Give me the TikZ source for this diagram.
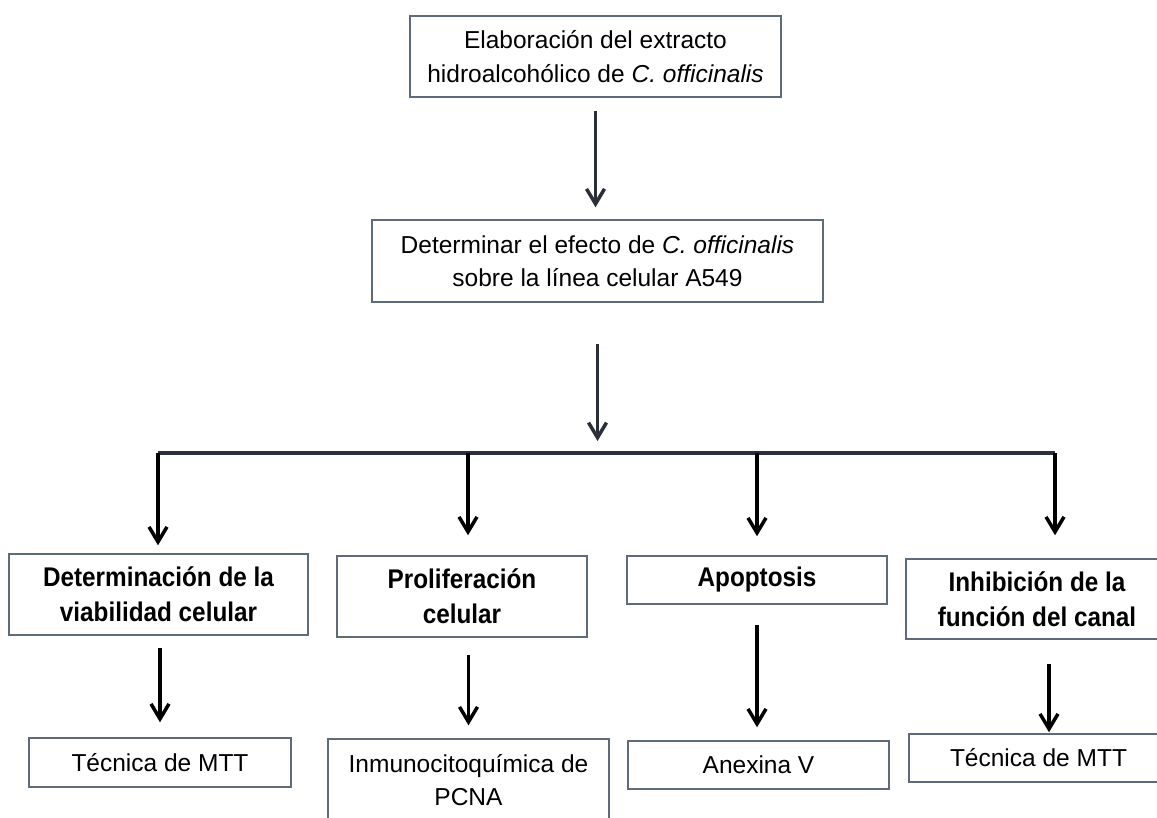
\documentclass[tikz,border=0pt]{standalone}
\usepackage{fontspec}
\setmainfont{Liberation Sans}
\newfontfamily\bnarrow[FakeStretch=0.9]{Liberation Sans}
\usetikzlibrary{arrows.meta}
\definecolor{boxline}{HTML}{5F6B78}
\definecolor{darkarrow}{HTML}{2B3038}
\begin{document}
\begin{tikzpicture}[x=1pt,y=-1pt,
  box/.style={draw=boxline, line width=1.5pt, inner sep=0pt, align=center, font=\fontsize{24.5}{33.5}\selectfont},
  boldbox/.style={box, font=\bnarrow\bfseries\fontsize{27}{35}\selectfont},
  toparrow/.style={draw=darkarrow, line width=3.5pt, -{Straight Barb[length=15pt,width=18pt,line width=3.5pt]}},
  lowarrow/.style={draw=black, line width=3.5pt, -{Straight Barb[length=15pt,width=18pt,line width=3.5pt]}},
  bar/.style={draw=darkarrow, line width=4.5pt}]
\useasboundingbox[fill=white] (0,0) rectangle (1157,817);

\node[box, minimum width=371pt, minimum height=81pt] (top) at (595.5,56.5) {Elaboración del extracto\\hidroalcohólico de \textit{C. officinalis}};
\node[box, minimum width=451pt, minimum height=82pt] (mid) at (597.5,261) {Determinar el efecto de \textit{C. officinalis}\\sobre la línea celular A549};

\node[boldbox, minimum width=299pt, minimum height=81pt] (b1) at (158.5,594.5) {Determinación de la\\viabilidad celular};
\node[boldbox, minimum width=250pt, minimum height=81pt] (b2) at (462,596.5) {Proliferación\\celular};
\node[boldbox, minimum width=260pt, minimum height=48pt] (b3) at (757,580) {\raisebox{-2pt}{Apoptosis}};
\node[boldbox, minimum width=262pt, minimum height=80pt] (b4) at (1037,599) {Inhibición de la\\función del canal};

\node[box, minimum width=262pt, minimum height=49pt] (c1) at (160,762.5) {Técnica de MTT};
\node[box, minimum width=281pt, minimum height=82pt] (c2) at (468.5,780) {Inmunocitoquímica de\\PCNA};
\node[box, minimum width=261pt, minimum height=48pt] (c3) at (758.5,765) {Anexina V};
\node[box, minimum width=259pt, minimum height=48pt] (c4) at (1038.5,758) {Técnica de MTT};

\coordinate (j) at (597.5,453);
\coordinate (k1) at (158,453);
\coordinate (k2) at (468,453);
\coordinate (k3) at (757,453);
\coordinate (k4) at (1055,453);

\draw[toparrow, shorten <=13pt, shorten >=12pt] (top.south) -- (top.south |- mid.north);
\draw[toparrow, shorten <=41pt, shorten >=12pt] (mid.south) -- (j);
\draw[bar] (k1) -- (k4);

\draw[lowarrow, shorten >=8pt] (k1) -- (k1 |- b1.north);
\draw[lowarrow, shorten >=20pt] (k2) -- (k2 |- b2.north);
\draw[lowarrow, shorten >=19pt] (k3) -- (k3 |- b3.north);
\draw[lowarrow, shorten >=23pt] (k4) -- (k4 |- b4.north);

\draw[lowarrow, shorten <=12pt, shorten >=15pt] (b1.south -| c1.north) -- (c1.north);
\draw[lowarrow, shorten <=17pt, shorten >=13pt] (b2.south -| c2.north) -- (c2.north);
\draw[lowarrow, shorten <=20pt, shorten >=13pt] (b3.south) -- (b3.south |- c3.north);
\draw[lowarrow, shorten <=24pt, shorten >=1pt] ([xshift=12pt]b4.south) -- ([xshift=12pt]b4.south |- c4.north);
\end{tikzpicture}
\end{document}
